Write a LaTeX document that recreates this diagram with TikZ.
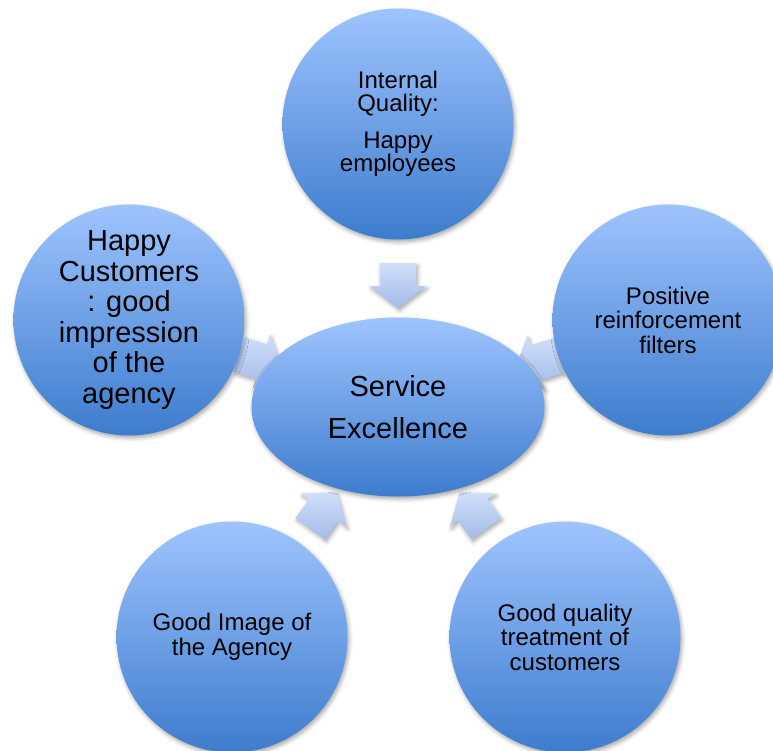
\documentclass[tikz,border=0pt]{standalone}
\usepackage{fontspec}
\setmainfont{Liberation Sans}
\usetikzlibrary{shapes.geometric, shapes.arrows, calc, backgrounds, shadows.blur}

\definecolor{bubbletop}{RGB}{158,196,254}
\definecolor{bubblebot}{RGB}{61,124,205}
\definecolor{flowtop}{RGB}{208,223,251}
\definecolor{flowbot}{RGB}{163,187,232}

\begin{document}
\begin{tikzpicture}[
        x=1pt, y=1pt,
        soft/.style={blur shadow={shadow xshift=1.5pt, shadow yshift=-2.5pt, shadow blur radius=4pt, shadow opacity=35}},
        bubble/.style={circle, minimum size=231pt, inner sep=0pt, align=center, top color=bubbletop, bottom color=bubblebot, font=\fontsize{24}{24.5}\selectfont, soft},
        hubshape/.style={ellipse, minimum width=293pt, minimum height=179pt, inner sep=0pt, align=center, top color=bubbletop, bottom color=bubblebot, font=\fontsize{29}{42}\selectfont, soft},
        flow/.style={single arrow, minimum height=45pt, minimum width=56pt, single arrow head extend=10pt, single arrow tip angle=104, inner xsep=0pt, inner ysep=18pt, top color=flowtop, bottom color=flowbot, soft}
    ]
    \clip (0,0) rectangle (773,-751);

    \node[hubshape] (hub) at (398,-407) {Service\\ Excellence};
    \node[bubble, font=\fontsize{24}{23}\selectfont] (internal) at (398,-124) {Internal\\ Quality:\\[14pt] Happy\\ employees};
    \node[bubble, font=\fontsize{29}{30.5}\selectfont] (customers) at (129,-320) {Happy\\ Customers\\ : good\\ impression\\ of the\\ agency};
    \node[bubble] (reinforce) at (668,-320) {Positive\\ reinforcement\\ filters};
    \node[bubble] (image) at (232,-637) {Good Image of\\ the Agency};
    \node[bubble] (treatment) at (565,-637) {Good quality\\ treatment of\\ customers};

    % block arrows sit in the gaps, behind the bubbles
    \begin{scope}[on background layer]
    \node[flow, rotate=-90] (a1) at ($(internal.-90)!0.5!(hub.90)$) {};
    \node[flow, rotate=-17.9] (a2) at ($(customers.-17.9)!0.5!(hub.162.1)$) {};
    \node[flow, rotate=197.9] (a3) at ($(reinforce.197.9)!0.5!(hub.17.9)$) {};
    \node[flow, rotate=54.2] (a4) at ($(image.54.2)!0.5!(hub.234.2)$) {};
    \node[flow, rotate=126] (a5) at ($(treatment.126)!0.5!(hub.306)$) {};
    \end{scope}

\end{tikzpicture}
\end{document}
